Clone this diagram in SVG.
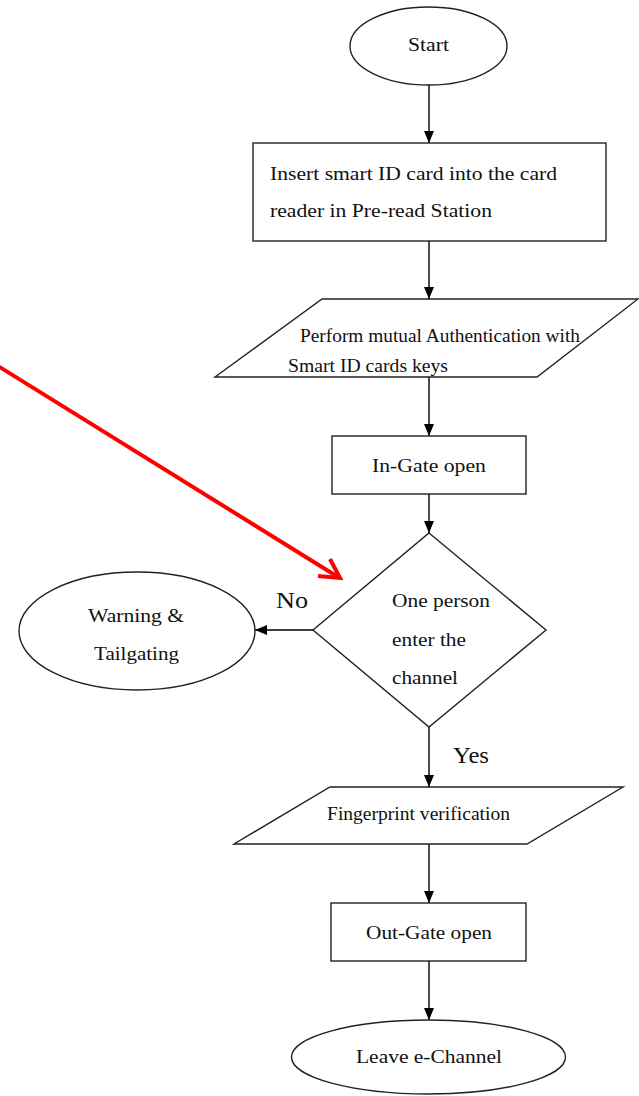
<svg xmlns="http://www.w3.org/2000/svg" width="639" height="1096" viewBox="0 0 639 1096">
<defs>
<marker id="ah" markerUnits="userSpaceOnUse" markerWidth="12" markerHeight="12" viewBox="0 0 12 10" refX="12" refY="5" orient="auto">
<path d="M0,0 L12,5 L0,10 Z" fill="#000"/>
</marker>
<style>
.shape{fill:#fff;stroke:#222;stroke-width:1.4}
.t{font-family:"Liberation Serif","Times New Roman",serif;font-size:18px;fill:#111}
.big{font-size:23px}
.c{text-anchor:middle}
.conn{stroke:#000;stroke-width:1.4;fill:none;marker-end:url(#ah)}
</style>
</defs>
<rect width="639" height="1096" fill="#fff"/>
<g id="connectors">
<line class="conn" x1="429" y1="85" x2="429" y2="143"/>
<line class="conn" x1="429" y1="241" x2="429" y2="299"/>
<line class="conn" x1="429" y1="377" x2="429" y2="436"/>
<line class="conn" x1="429" y1="494" x2="429" y2="533"/>
<line class="conn" x1="313" y1="630" x2="255" y2="630"/>
<line class="conn" x1="429" y1="727" x2="429" y2="787"/>
<line class="conn" x1="429" y1="844" x2="429" y2="903"/>
<line class="conn" x1="429" y1="961" x2="429" y2="1020"/>
</g>
<g id="start">
<ellipse class="shape" cx="428.5" cy="46" rx="78.5" ry="39"/>
<text class="t c" x="428.5" y="51" textLength="41" lengthAdjust="spacingAndGlyphs">Start</text>
</g>
<g id="insert">
<rect class="shape" x="253" y="143" width="353" height="98"/>
<text class="t" x="270" y="180" textLength="287" lengthAdjust="spacingAndGlyphs">Insert smart ID card into the card</text>
<text class="t" x="270" y="217" textLength="222" lengthAdjust="spacingAndGlyphs">reader in Pre-read Station</text>
</g>
<g id="auth">
<polygon class="shape" points="322,299 638,299 537,377 215,377"/>
<text class="t" x="300" y="342" textLength="280" lengthAdjust="spacingAndGlyphs">Perform mutual Authentication with</text>
<text class="t" x="288" y="372" textLength="160" lengthAdjust="spacingAndGlyphs">Smart ID cards keys</text>
</g>
<g id="ingate">
<rect class="shape" x="332" y="436" width="194" height="58"/>
<text class="t" x="372" y="472" textLength="114" lengthAdjust="spacingAndGlyphs">In-Gate open</text>
</g>
<g id="decision">
<polygon class="shape" points="429,533 546,630 429,727 313,630"/>
<text class="t" x="392" y="607" textLength="98" lengthAdjust="spacingAndGlyphs">One person</text>
<text class="t" x="392" y="646" textLength="74" lengthAdjust="spacingAndGlyphs">enter the</text>
<text class="t" x="392" y="684" textLength="66" lengthAdjust="spacingAndGlyphs">channel</text>
</g>
<g id="warning">
<ellipse class="shape" cx="137" cy="631" rx="118" ry="59"/>
<text class="t c" x="136" y="622" textLength="96" lengthAdjust="spacingAndGlyphs">Warning &amp;</text>
<text class="t c" x="136.5" y="660" textLength="85" lengthAdjust="spacingAndGlyphs">Tailgating</text>
</g>
<g id="labels">
<text class="t big" x="276" y="608" textLength="32" lengthAdjust="spacingAndGlyphs">No</text>
<text class="t big" x="453" y="763" textLength="36" lengthAdjust="spacingAndGlyphs">Yes</text>
</g>
<g id="fingerprint">
<polygon class="shape" points="330,787 623,787 527,844 234,844"/>
<text class="t" x="327" y="820" textLength="183" lengthAdjust="spacingAndGlyphs">Fingerprint verification</text>
</g>
<g id="outgate">
<rect class="shape" x="331" y="903" width="195" height="58"/>
<text class="t" x="366" y="939" textLength="126" lengthAdjust="spacingAndGlyphs">Out-Gate open</text>
</g>
<g id="leave">
<ellipse class="shape" cx="428.5" cy="1057" rx="137" ry="37"/>
<text class="t" x="356" y="1063" textLength="146" lengthAdjust="spacingAndGlyphs">Leave e-Channel</text>
</g>
<g id="pointer">
<line x1="-2" y1="366" x2="338" y2="577" stroke="#f00" stroke-width="4"/>
<polyline points="318,576 340,578 330,559" fill="none" stroke="#f00" stroke-width="4" stroke-linejoin="miter"/>
</g>
</svg>
